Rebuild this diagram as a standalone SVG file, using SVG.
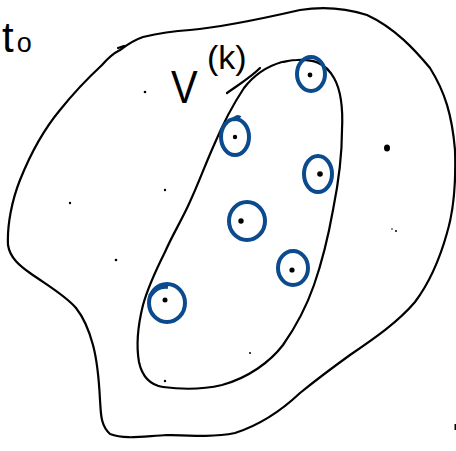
<svg xmlns="http://www.w3.org/2000/svg" width="456" height="451" viewBox="0 0 456 451">
<style>
.ink{fill:none;stroke:#000;stroke-width:2.2;stroke-linecap:round;stroke-linejoin:round}
.ring{fill:none;stroke:#0b4a8c;stroke-width:4}
.dot{fill:#000}
.hand{font-family:"Liberation Sans","DejaVu Sans",sans-serif;fill:#000}
</style>
<rect width="456" height="451" fill="#fff"/>
<g id="outer-region">
<path class="ink" d="M120,50 C128,44 134,40 143,37 C160,33 175,31 190,30 C225,27 265,18 300,10 C325,6 345,8 367,15 C395,28 415,50 430,68 C445,92 452,115 455,150 C456,180 454,210 447,233 C440,258 430,282 415,302 C398,322 375,338 350,355 C332,368 316,380 300,393 C282,410 260,425 235,433 C215,437 195,436 167,435 C145,436 125,440 110,434 C100,425 101,412 100,400 C99,380 97,360 93,345 C89,330 84,318 76,308 C66,296 50,287 30,273 C20,266 10,258 8,245 C7,225 12,200 20,180 C30,155 45,128 60,110 C72,95 88,78 102,65 C108,58 114,53 120,50"/>
<path class="ink" d="M118,48 L124,46"/>
</g>
<g id="inner-region">
<path class="ink" d="M297,60 C312,59 325,62 334,78 C342,92 343,110 342,130 C342,155 339,180 333,210 C328,238 322,262 314,285 C306,308 297,325 283,345 C270,362 248,378 222,385 C205,389 185,390 163,387 C150,385 142,376 139,362 C136,345 138,325 143,305 C148,287 155,272 165,252 C172,236 180,223 188,206 C198,185 205,165 214,145 C222,126 232,106 244,88 C254,75 268,66 282,62 C288,61 292,60 297,60"/>
<path class="ink" d="M227,93 C238,85 250,78 260,68"/>
</g>
<g id="vertices">
<g id="v1"><ellipse class="ring" cx="311" cy="74" rx="14" ry="17"/><circle class="dot" cx="310" cy="75" r="2.4"/></g>
<g id="v2"><ellipse class="ring" cx="235" cy="137" rx="14" ry="18"/><path class="ring" d="M233,120 C236,117 238,116 240,118"/><circle class="dot" cx="235" cy="137" r="2.2"/></g>
<g id="v3"><ellipse class="ring" cx="318" cy="174" rx="14" ry="18"/><circle class="dot" cx="320" cy="174" r="2.8"/></g>
<g id="v4"><ellipse class="ring" cx="247" cy="221" rx="18" ry="19"/><circle class="dot" cx="241" cy="221" r="2.7"/></g>
<g id="v5"><ellipse class="ring" cx="293" cy="268" rx="15" ry="17"/><circle class="dot" cx="292" cy="270" r="2.6"/></g>
<g id="v6"><ellipse class="ring" cx="167" cy="303" rx="18" ry="19"/><path class="ring" d="M150,296 C155,289 162,286 168,287"/><circle class="dot" cx="165" cy="300" r="2.5"/></g>
</g>
<g id="points">
<circle class="dot" cx="145" cy="92" r="1.3"/>
<circle class="dot" cx="70" cy="203" r="1.2"/>
<circle class="dot" cx="165" cy="190" r="1.2"/>
<circle class="dot" cx="116" cy="260" r="1.3"/>
<circle class="dot" cx="165" cy="381" r="1.2"/>
<circle class="dot" cx="250" cy="353" r="1"/>
<ellipse class="dot" cx="387" cy="148" rx="3" ry="3.5"/>
<circle class="dot" cx="392" cy="229" r="0.8"/>
<circle class="dot" cx="396" cy="231" r="1"/>
<rect class="dot" x="454.5" y="424" width="1.5" height="6"/>
</g>
<g id="labels">
<text class="hand" x="2" y="52" font-size="42">t<tspan font-size="27" dx="3">o</tspan></text>
<text class="hand" x="171" y="103" font-size="47" transform="translate(171,103) scale(0.85,1) translate(-171,-103)">V</text>
<text class="hand" x="207" y="69" font-size="34">(k)</text>
</g>
</svg>
